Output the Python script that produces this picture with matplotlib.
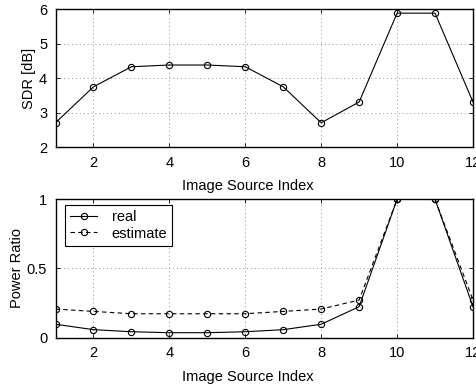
import matplotlib
matplotlib.use("Agg")
import matplotlib.pyplot as plt

# image source index and measured values
idx = [1, 2, 3, 4, 5, 6, 7, 8, 9, 10, 11, 12]
sdr = [2.71, 3.75, 4.33, 4.38, 4.38, 4.33, 3.75, 2.71, 3.31, 5.88, 5.88, 3.31]
power_real = [0.097, 0.058, 0.043, 0.036, 0.036, 0.043, 0.058, 0.097, 0.224, 1.0, 1.0, 0.224]
power_est = [0.207, 0.19, 0.173, 0.173, 0.173, 0.173, 0.19, 0.207, 0.272, 1.0, 1.0, 0.272]

xticks = [2, 4, 6, 8, 10, 12]
xlabel = 'Image Source Index'

plt.rcParams['font.family'] = ['Liberation Sans', 'DejaVu Sans']
plt.rcParams['font.size'] = 10.5

fig = plt.figure(figsize=(4.77, 3.85), dpi=100)
ax1 = fig.add_axes([0.1164, 0.6174, 0.8752, 0.3592])
ax2 = fig.add_axes([0.1164, 0.1229, 0.8752, 0.3594])

mk = dict(marker='o', markersize=4.5, markerfacecolor='none', markeredgecolor='k',
          markeredgewidth=0.8, color='k', linewidth=0.8)

ax1.plot(idx, sdr, '-', **mk)
ax1.set_ylim(2, 6)
ax1.set_yticks([2, 3, 4, 5, 6])
ax1.set_ylabel('SDR [dB]', labelpad=2)

ax2.plot(idx, power_real, '-', label='real', **mk)
ax2.plot(idx, power_est, '--', label='estimate', dashes=(4, 3), **mk)
ax2.set_ylim(0, 1)
ax2.set_yticks([0, 0.5, 1])
ax2.set_yticklabels(['0', '0.5', '1'])
ax2.set_ylabel('Power Ratio', labelpad=2)
leg = ax2.legend(loc='upper left', bbox_to_anchor=(0.0228, 0.957), borderaxespad=0,
                 fancybox=False, edgecolor='k', framealpha=1,
                 handlelength=1.85, handletextpad=1.0, labelspacing=0.15,
                 borderpad=0.35)
leg.get_frame().set_linewidth(0.8)

for ax in (ax1, ax2):
    ax.set_xlim(1, 12)
    ax.set_xticks(xticks)
    ax.set_xlabel(xlabel)
    ax.xaxis.set_label_coords(0.461, -0.23)
    ax.grid(True, linestyle=(0, (1, 3)), color='#909090', linewidth=0.7)
    ax.tick_params(direction='in', top=True, right=True, length=3, width=0.6, pad=6)
    for s in ax.spines.values():
        s.set_linewidth(1.0)

fig.savefig('out.png', dpi=100)
